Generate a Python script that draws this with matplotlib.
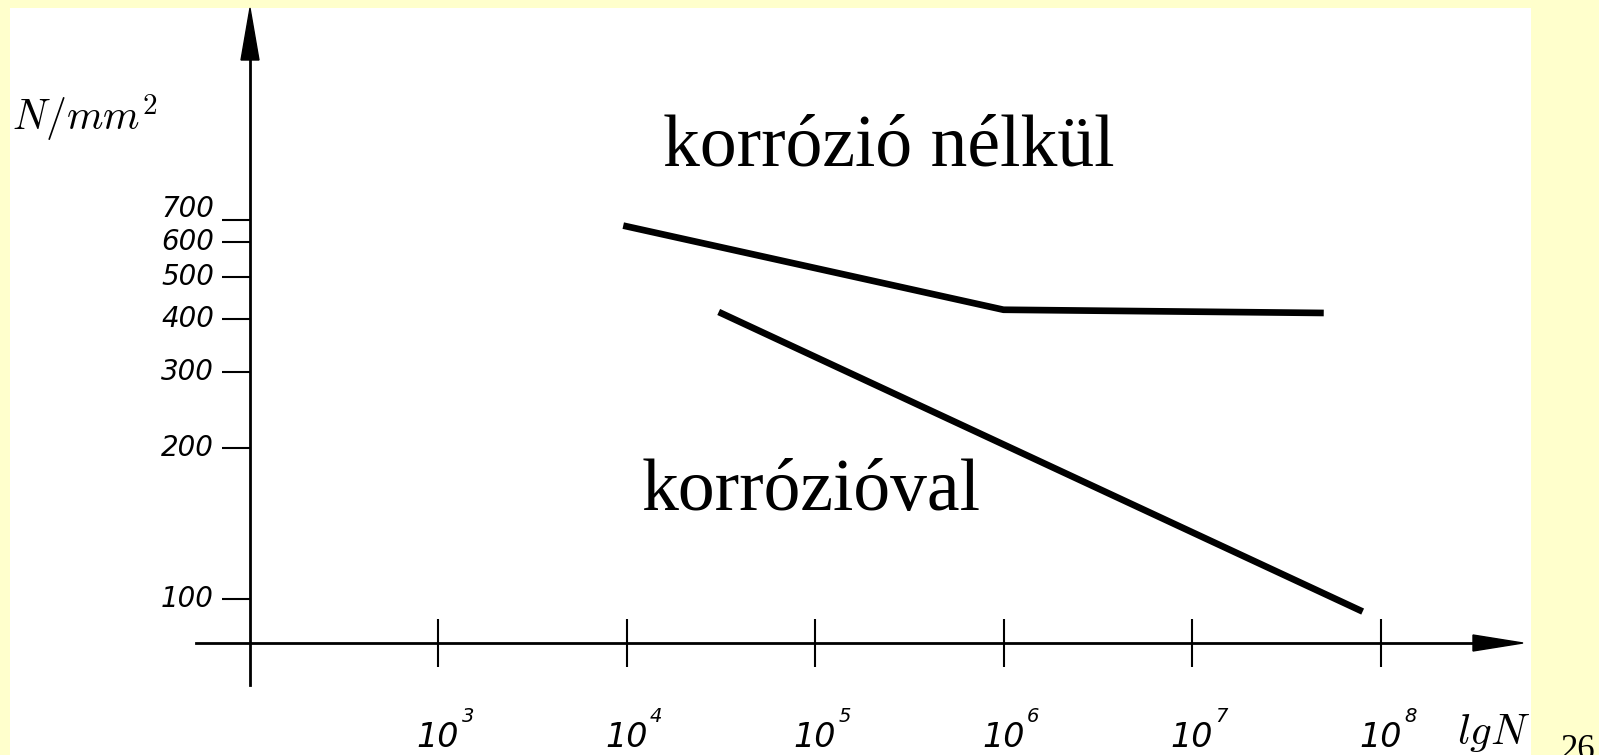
import numpy as np
import matplotlib
matplotlib.use('Agg')
import matplotlib.pyplot as plt
from matplotlib import transforms
from matplotlib.patches import Polygon
from matplotlib.ticker import NullLocator

W, H = 1599, 755

# Wöhler-görbék (N/mm^2 a ciklusszám függvényében)
ciklus_nelkul = [1e4, 1e6, 4.8e7]
fesz_nelkul = [670, 420, 413]
ciklus_val = [3.2e4, 7.75e7]
fesz_val = [412, 95]

x_ticks = [1e3, 1e4, 1e5, 1e6, 1e7, 1e8]
x_kitevok = ['3', '4', '5', '6', '7', '8']
y_ticks = [100, 200, 300, 400, 500, 600, 700]
y_labels = ['100', '200', '300', '400', '500', '600', '700']

# a függőleges beosztás kézzel rajzolt, nem pontosan logaritmikus:
# az osztások távolsága a 100-as vonaltól (px)
oszt_px = [0, 150.7, 227.3, 280, 322.3, 356.7, 379]
oszt_lg = list(np.log10(y_ticks))
# a két végen egyenes folytatás
skala_lg = [-3] + oszt_lg + [6]
skala_px = ([oszt_px[0] - 500.6 * (oszt_lg[0] + 3)] + oszt_px
            + [oszt_px[-1] + 333 * (6 - oszt_lg[-1])])


def fwd(v):
    v = np.clip(np.asarray(v, dtype=float), 1e-3, None)
    return np.interp(np.log10(v), skala_lg, skala_px)


def inv(p):
    return 10 ** np.interp(np.asarray(p, dtype=float), skala_px, skala_lg)


plt.rcParams['mathtext.fontset'] = 'cm'

fig = plt.figure(figsize=(W / 100, H / 100), dpi=100, facecolor='#FFFFCC')
ax = fig.add_axes([10 / W, 0, 1521 / W, 747 / H])
ax.set_facecolor('white')

# x: 188.5 px / dekád, 10^2 a függőleges tengelyen
dek = 188.5
x0 = 249.5
ax.set_xscale('log')
ax.set_yscale('function', functions=(fwd, inv))
ax.set_xlim(10 ** (2 - (x0 - 10) / dek), 10 ** (2 + (1531 - x0) / dek))
ax.set_ylim(inv(599 - 755), inv(599 - 8))

# pixel koordináták a bal felső saroktól
px = transforms.Affine2D().scale(1, -1).translate(0, H)

# tengelyek
ax.spines[['top', 'right']].set_visible(False)
ax.spines['left'].set_position(('data', 1e2))
ax.spines['bottom'].set_position(('data', inv(599 - 643)))
ax.spines['left'].set_bounds(inv(599 - 685), inv(599 - 50))
ax.spines['bottom'].set_bounds(10 ** (2 + (196 - x0) / dek), 10 ** (2 + (1480 - x0) / dek))
for s in ('left', 'bottom'):
    ax.spines[s].set_linewidth(2)

fig.add_artist(Polygon([(250, 8), (241, 60), (259, 60)], closed=True,
                       color='black', transform=px))
fig.add_artist(Polygon([(1523, 643), (1473, 635), (1473, 651)], closed=True,
                       color='black', transform=px))

ax.xaxis.set_minor_locator(NullLocator())
ax.yaxis.set_minor_locator(NullLocator())
ax.set_xticks(x_ticks, labels=[])
ax.set_yticks(y_ticks, labels=[])
ax.tick_params(axis='x', direction='inout', length=35, width=1.5, labelbottom=False)
ax.tick_params(axis='y', direction='out', length=20, width=1.5, labelleft=False)

# x feliratok: 10 és kitevő
tx = transforms.blended_transform_factory(ax.transData, px)
for x, k in zip(x_ticks, x_kitevok):
    ax.text(x, 747, '10', transform=tx, ha='center', va='baseline',
            fontsize=24, style='italic')
    ax.annotate(k, xy=(x, 747), xycoords=tx, xytext=(17, 18),
                textcoords='offset points', ha='left', va='baseline',
                fontsize=14, style='italic')

# y feliratok
ty = transforms.blended_transform_factory(px, ax.transData)
for y, lab in zip(y_ticks, y_labels):
    dy = 8 if y == 700 else 0
    ax.annotate(lab, xy=(214, y), xycoords=ty, xytext=(0, dy),
                textcoords='offset points', ha='right', va='center',
                fontsize=20, style='italic')

# görbék
ax.plot(ciklus_nelkul, fesz_nelkul, color='black', lw=4.8)
ax.plot(ciklus_val, fesz_val, color='black', lw=4.8)

fig.text(663, 165, 'korrózió nélkül', transform=px, fontsize=53,
         family='Liberation Serif', va='baseline')
fig.text(642, 510, 'korrózióval', transform=px, fontsize=53,
         family='Liberation Serif', va='baseline')

fig.text(12, 118, r'$N/mm^2$', transform=px, fontsize=30, va='center')
fig.text(1457, 744, r'$lgN$', transform=px, fontsize=31, va='baseline')
fig.text(1561, 759, '26', transform=px, fontsize=25,
         family='Liberation Serif', va='baseline')

fig.savefig('out.png', dpi=100, facecolor=fig.get_facecolor())
